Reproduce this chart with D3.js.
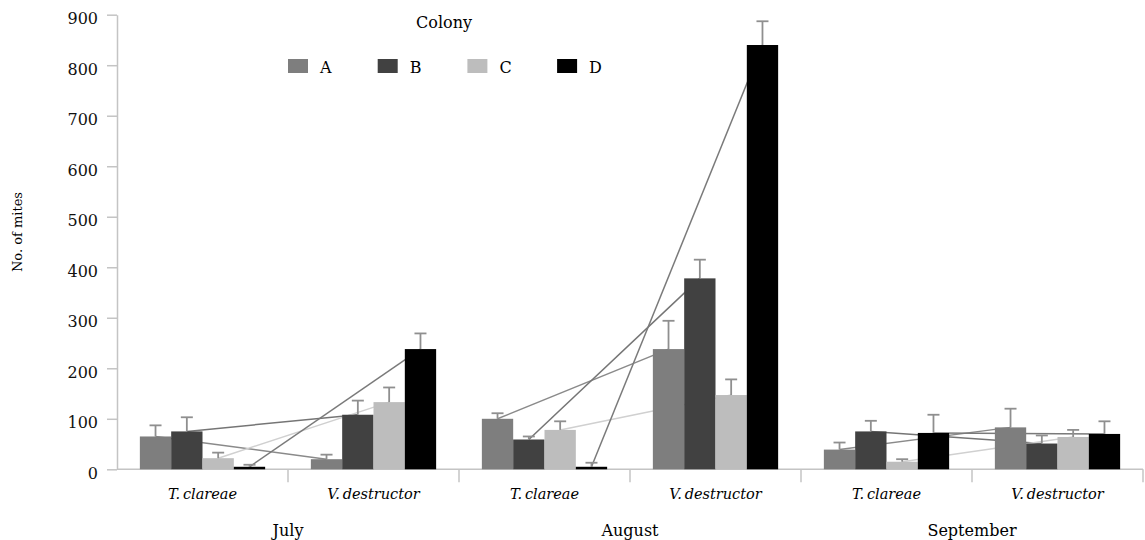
<!DOCTYPE html>
<html>
<head>
<meta charset="utf-8">
<script src="https://cdn.jsdelivr.net/npm/d3@7"></script>
<style>
  body { margin: 0; background: #fff; }
</style>
</head>
<body>
<svg id="chart" width="1145" height="540"></svg>
<script>
// categories
const months = ["July", "August", "September"];
const species = ["T.\u2009clareae", "V.\u2009destructor"];
const colonies = ["A", "B", "C", "D"];
const yTicks = [0, 100, 200, 300, 400, 500, 600, 700, 800, 900];

// mean no. of mites, order: Jul T, Jul V, Aug T, Aug V, Sep T, Sep V
const colonyA = [65, 20, 100, 238, 39, 83];
const colonyB = [75, 108, 59, 378, 75, 51];
const colonyC = [22, 133, 78, 147, 15, 64];
const colonyD = [5, 238, 5, 840, 72, 70];

// upper error (SE)
const errA = [22, 9, 11, 56, 14, 37];
const errB = [28, 28, 6, 37, 21, 16];
const errC = [11, 29, 17, 31, 5, 14];
const errD = [4, 31, 8, 47, 36, 25];

const values = [colonyA, colonyB, colonyC, colonyD];
const errors = [errA, errB, errC, errD];
const barColors = ["#7e7e7e", "#414141", "#bdbdbd", "#000000"];
const lineColors = ["#8a8a8a", "#757575", "#d0d0d0", "#7a7a7a"];
const serif = "DejaVu Serif";

const svg = d3.select("#chart");
const mLeft = 117, mRight = 1143, mTop = 14.7, mBottom = 469.3;

// groups: month x species
const groups = [];
months.forEach((m, mi) => species.forEach((s, si) => groups.push({ key: m + "|" + s, month: m, sp: s, mi, si })));

const x = d3.scaleBand().domain(groups.map(g => g.key)).range([mLeft, mRight]).padding(0);
const xc = d3.scaleBand().domain(colonies).range([0, x.bandwidth()]).paddingInner(0).paddingOuter(0.73);
const y = d3.scaleLinear().domain([0, 900]).range([mBottom, mTop]);

// y axis
const yAxis = svg.append("g")
  .attr("transform", `translate(${mLeft},0)`)
  .call(d3.axisLeft(y).tickValues(yTicks).tickSize(10).tickSizeOuter(0).tickPadding(9));
yAxis.attr("font-family", serif).attr("font-size", 16);
yAxis.select(".domain").attr("stroke", "#c4c4c4").attr("stroke-width", 1.5);
yAxis.selectAll(".tick line").attr("stroke", "#c4c4c4").attr("stroke-width", 1.5);
yAxis.selectAll(".tick text")
  .style("font-family", serif).attr("font-size", 16).attr("dy", "0.55em").attr("fill", "#111");

// baseline
svg.append("line")
  .attr("x1", mLeft).attr("x2", mRight)
  .attr("y1", y(0)).attr("y2", y(0))
  .attr("stroke", "#c4c4c4").attr("stroke-width", 1.5);

// category separators below axis
svg.append("g").selectAll("line")
  .data(groups)
  .join("line")
  .attr("x1", d => x(d.key) + x.bandwidth())
  .attr("x2", d => x(d.key) + x.bandwidth())
  .attr("y1", y(0)).attr("y2", y(0) + 13)
  .attr("stroke", "#c4c4c4").attr("stroke-width", 1.5);

// connecting lines T. clareae -> V. destructor per colony (behind bars)
const cx = (gi, ci) => x(groups[gi].key) + xc(colonies[ci]) + xc.bandwidth() / 2;
const lineG = svg.append("g");
months.forEach((m, mi) => {
  colonies.forEach((c, ci) => {
    const g0 = mi * 2, g1 = mi * 2 + 1;
    lineG.append("line")
      .attr("x1", cx(g0, ci)).attr("y1", y(values[ci][g0]))
      .attr("x2", cx(g1, ci)).attr("y2", y(values[ci][g1]))
      .attr("stroke", lineColors[ci]).attr("stroke-width", 1.5);
  });
});

// bars
const bars = [];
groups.forEach((g, gi) => colonies.forEach((c, ci) => {
  bars.push({ g: g.key, c, ci, v: values[ci][gi], e: errors[ci][gi] });
}));

svg.append("g").selectAll("rect")
  .data(bars)
  .join("rect")
  .attr("x", d => x(d.g) + xc(d.c))
  .attr("y", d => y(d.v))
  .attr("width", xc.bandwidth())
  .attr("height", d => y(0) - y(d.v))
  .attr("fill", d => barColors[d.ci]);

// error bars (upper)
const eb = svg.append("g").attr("stroke", "#8f8f8f").attr("stroke-width", 1.8);
bars.forEach(d => {
  const mx = x(d.g) + xc(d.c) + xc.bandwidth() / 2;
  eb.append("line").attr("x1", mx).attr("x2", mx).attr("y1", y(d.v)).attr("y2", y(d.v + d.e));
  eb.append("line").attr("x1", mx - 6).attr("x2", mx + 6).attr("y1", y(d.v + d.e)).attr("y2", y(d.v + d.e));
});

// species labels
svg.append("g").selectAll("text")
  .data(groups)
  .join("text")
  .attr("x", d => x(d.key) + x.bandwidth() / 2)
  .attr("y", 499)
  .attr("text-anchor", "middle")
  .style("font-family", serif)
  .attr("font-size", 14.5)
  .attr("font-style", "italic")
  .text(d => d.sp);

// month labels
svg.append("g").selectAll("text")
  .data(months)
  .join("text")
  .attr("x", (m, i) => x(groups[i * 2].key) + x.bandwidth())
  .attr("y", 536)
  .attr("text-anchor", "middle")
  .style("font-family", serif)
  .attr("font-size", 16)
  .text(m => m);

// y label
svg.append("text")
  .attr("transform", "translate(22,232) rotate(-90)")
  .attr("text-anchor", "middle")
  .style("font-family", serif)
  .attr("font-size", 13)
  .text("No. of mites");

// legend
svg.append("text")
  .attr("x", 444).attr("y", 28)
  .attr("text-anchor", "middle")
  .style("font-family", serif)
  .attr("font-size", 16)
  .text("Colony");

const lg = svg.append("g").selectAll("g")
  .data(colonies)
  .join("g")
  .attr("transform", (d, i) => `translate(${288 + i * 89.7},59)`);
lg.append("rect").attr("width", 20).attr("height", 14).attr("fill", (d, i) => barColors[i]);
lg.append("text").attr("x", 32).attr("y", 14).style("font-family", serif).attr("font-size", 16).text(d => d);
</script>
</body>
</html>
